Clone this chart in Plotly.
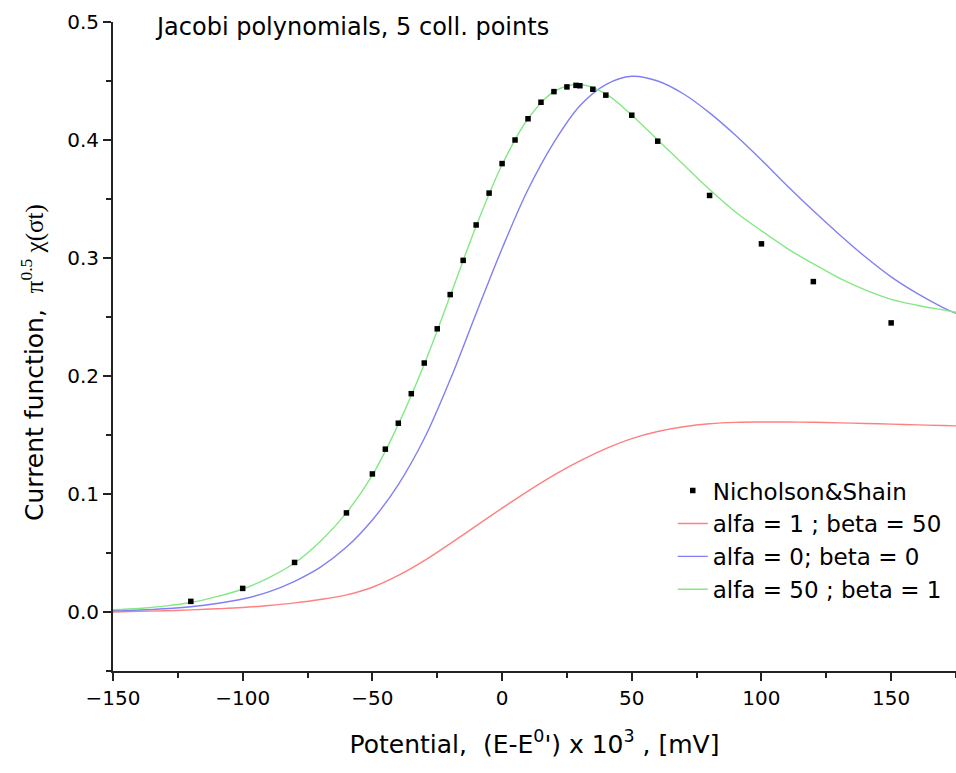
import plotly.graph_objects as go

# Nicholson & Shain tabulated points
ns_x = [-120, -100, -80, -60, -50, -45, -40, -35, -30, -25, -20, -15, -10, -5, 0, 5, 10, 15, 20, 25, 28.5, 30, 35, 40, 50, 60, 80, 100, 120, 150]
ns_y = [0.009, 0.020, 0.042, 0.084, 0.117, 0.138, 0.160, 0.185, 0.211, 0.240, 0.269, 0.298, 0.328, 0.355, 0.380, 0.400, 0.418, 0.432, 0.441, 0.445, 0.4463, 0.446, 0.443, 0.438, 0.421, 0.399, 0.353, 0.312, 0.280, 0.245]

# curve abscissa
cx = [-150, -140, -130, -120, -110, -100, -90, -80, -70, -60, -50, -40, -30, -20, -10, 0, 10, 20, 30, 40, 50, 60, 70, 80, 90, 100, 110, 120, 130, 140, 150, 160, 170, 175]

red_y = [0.000, 0.0005, 0.001, 0.0018, 0.0027, 0.0038, 0.0055, 0.0077, 0.0106, 0.0145, 0.021, 0.031, 0.0435, 0.058, 0.073, 0.088, 0.1025, 0.116, 0.128, 0.1385, 0.147, 0.153, 0.157, 0.1595, 0.1607, 0.161, 0.161, 0.1608, 0.1603, 0.1598, 0.1592, 0.1586, 0.158, 0.1577]
blue_y = [0.001, 0.0017, 0.0028, 0.0045, 0.0072, 0.011, 0.017, 0.026, 0.038, 0.055, 0.078, 0.108, 0.147, 0.197, 0.253, 0.308, 0.358, 0.398, 0.429, 0.447, 0.454, 0.450, 0.439, 0.423, 0.404, 0.383, 0.361, 0.340, 0.320, 0.301, 0.284, 0.270, 0.258, 0.253]
green_y = [0.002, 0.003, 0.005, 0.008, 0.013, 0.0195, 0.029, 0.0415, 0.060, 0.084, 0.116, 0.159, 0.210, 0.268, 0.327, 0.379, 0.418, 0.441, 0.447, 0.439, 0.421, 0.400, 0.379, 0.358, 0.339, 0.323, 0.308, 0.295, 0.283, 0.273, 0.265, 0.260, 0.256, 0.254]

FONT = "DejaVu Sans"

fig = go.Figure()
fig.add_trace(go.Scatter(x=cx, y=red_y, mode="lines", name="alfa = 1 ; beta = 50",
                         line=dict(color="#ff8080", width=1.4, shape="spline"), legendrank=2))
fig.add_trace(go.Scatter(x=cx, y=blue_y, mode="lines", name="alfa = 0; beta = 0",
                         line=dict(color="#8080f4", width=1.4, shape="spline"), legendrank=3))
fig.add_trace(go.Scatter(x=cx, y=green_y, mode="lines", name="alfa = 50 ; beta = 1",
                         line=dict(color="#84e884", width=1.4, shape="spline"), legendrank=4))
fig.add_trace(go.Scatter(x=ns_x, y=ns_y, mode="markers", name="Nicholson&Shain",
                         marker=dict(symbol="square", size=5.5, color="black"), legendrank=1))

fig.update_layout(
    width=956, height=773,
    margin=dict(l=113, r=0, t=22, b=102, autoexpand=False),
    plot_bgcolor="white", paper_bgcolor="white",
    font=dict(family=FONT, color="black"),
    showlegend=True,
    legend=dict(x=0.664, y=0.311, xanchor="left", yanchor="top",
                font=dict(size=23, family=FONT), bgcolor="rgba(0,0,0,0)",
                tracegroupgap=0),
    annotations=[
        dict(text="Jacobi polynomials, 5 coll. points", x=0.0474, y=0.993,
             xref="paper", yref="paper", xanchor="left", yanchor="middle",
             showarrow=False, font=dict(size=24, family=FONT)),
        dict(text="Current function,  <span style=\"font-family:'Liberation Serif'\">π<sup>0.5</sup> χ(σt)</span>",
             x=(32 - 113) / 843, y=1 - (363 - 22) / 649, xref="paper", yref="paper",
             xanchor="center", yanchor="middle", textangle=-90, showarrow=False,
             font=dict(size=25, family=FONT)),
    ],
)
fig.update_xaxes(range=[-150, 175], dtick=50, tick0=0, ticks="outside", ticklen=8, tickwidth=1.5,
                 tickcolor="#222", showline=True, linecolor="#222", linewidth=2,
                 showgrid=False, zeroline=False, tickfont=dict(size=20, family=FONT),
                 minor=dict(dtick=25, ticks="outside", ticklen=5, tickcolor="#222", tickwidth=1.5, showgrid=False),
                 title=dict(text="Potential,  (E-E<sup>0</sup>') x 10<sup>3</sup> , [mV]",
                            font=dict(size=25, family=FONT), standoff=26))
fig.update_yaxes(range=[-0.05, 0.5], dtick=0.1, tick0=0, tickformat=".1f", ticks="outside", ticklen=8,
                 tickwidth=1.5, tickcolor="#222", showline=True, linecolor="#222", linewidth=2,
                 showgrid=False, zeroline=False, tickfont=dict(size=20, family=FONT),
                 minor=dict(dtick=0.05, tick0=0, ticks="outside", ticklen=5, tickcolor="#222", tickwidth=1.5, showgrid=False))

fig.write_html("out.html")
